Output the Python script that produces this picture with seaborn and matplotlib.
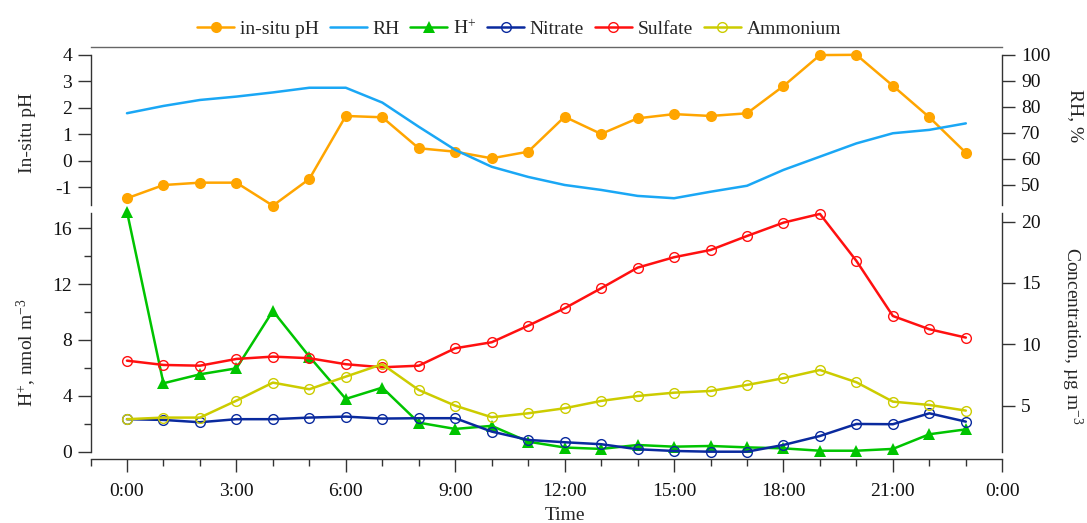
import matplotlib
matplotlib.use("Agg")
import matplotlib.pyplot as plt
import numpy as np
import pandas as pd
import seaborn as sns
from matplotlib.ticker import MultipleLocator, FixedLocator
from matplotlib.lines import Line2D

# ---------------- data ----------------
hours = list(range(24))
ph = [-1.42, -0.92, -0.83, -0.83, -1.70, -0.69, 1.69, 1.64, 0.47, 0.34, 0.09, 0.34,
      1.66, 1.01, 1.60, 1.76, 1.69, 1.79, 2.82, 3.99, 4.00, 2.83, 1.64, 0.30]
rh = [77.6, 80.4, 82.7, 84.0, 85.6, 87.4, 87.4, 81.7, 72.4, 63.5, 57.0, 53.1,
      50.0, 48.1, 45.8, 44.9, 47.4, 49.7, 55.8, 60.9, 66.0, 69.9, 71.2, 73.7]
hplus = [17.19, 4.90, 5.54, 5.97, 10.08, 6.81, 3.78, 4.59, 2.08, 1.63, 1.85, 0.72,
         0.30, 0.20, 0.48, 0.36, 0.41, 0.31, 0.24, 0.07, 0.07, 0.20, 1.25, 1.60]
nitrate = [3.90, 3.84, 3.65, 3.90, 3.90, 4.03, 4.11, 3.95, 3.98, 3.98, 2.89, 2.21,
           2.02, 1.86, 1.45, 1.31, 1.25, 1.25, 1.80, 2.53, 3.51, 3.49, 4.38, 3.70]
sulfate = [8.67, 8.32, 8.26, 8.81, 9.00, 8.87, 8.38, 8.13, 8.26, 9.68, 10.17, 11.52,
           12.94, 14.57, 16.25, 17.10, 17.69, 18.83, 19.92, 20.63, 16.80, 12.31, 11.23, 10.55]
ammonium = [3.90, 4.03, 4.03, 5.41, 6.88, 6.34, 7.37, 8.38, 6.28, 5.00, 4.06, 4.38,
            4.79, 5.39, 5.79, 6.06, 6.20, 6.69, 7.24, 7.91, 6.91, 5.33, 5.06, 4.60]

xtick_hours = [0, 3, 6, 9, 12, 15, 18, 21, 24]
xtick_labels = ["0:00", "3:00", "6:00", "9:00", "12:00", "15:00", "18:00", "21:00", "0:00"]
ph_ticks = [-1, 0, 1, 2, 3, 4]
rh_ticks = [50, 60, 70, 80, 90, 100]
hplus_ticks = [0, 4, 8, 12, 16]
conc_ticks = [5, 10, 15, 20]

df = pd.DataFrame({"hour": hours, "ph": ph, "rh": rh, "hplus": hplus,
                   "nitrate": nitrate, "sulfate": sulfate, "ammonium": ammonium})

# ---------------- style ----------------
sns.set_theme(style="ticks")
plt.rcParams["font.family"] = ["Liberation Serif", "DejaVu Serif"]
plt.rcParams["mathtext.fontset"] = "custom"
plt.rcParams["mathtext.rm"] = "Liberation Serif"
plt.rcParams["mathtext.it"] = "Liberation Serif:italic"
plt.rcParams["mathtext.bf"] = "Liberation Serif:bold"
plt.rcParams["axes.unicode_minus"] = False
plt.rcParams["font.size"] = 14

C_PH = "#FFA500"
C_RH = "#1AA7F5"
C_H = "#00C400"
C_NO3 = "#0A2A9E"
C_SO4 = "#FF1010"
C_NH4 = "#CCCC00"
SPINE = "#333333"

fig = plt.figure(figsize=(10.87, 5.23), dpi=100)
L, W = 90.5 / 1087, (1002.3 - 90.5) / 1087
ax_top = fig.add_axes([L, (523 - 205) / 523, W, 157.7 / 523])
ax_bot = fig.add_axes([L, (523 - 451.7) / 523, W, 238.4 / 523], sharex=ax_top)
ax_top_r = ax_top.twinx()
ax_bot_r = ax_bot.twinx()

lw = 1.8
# top panel
sns.lineplot(data=df, x="hour", y="ph", ax=ax_top, color=C_PH, lw=lw, marker="o",
             markersize=8, markeredgewidth=0, clip_on=False, label="in-situ pH", legend=False)
sns.lineplot(data=df, x="hour", y="rh", ax=ax_top_r, color=C_RH, lw=lw,
             clip_on=False, label="RH", legend=False)
# bottom panel
sns.lineplot(data=df, x="hour", y="hplus", ax=ax_bot, color=C_H, lw=lw, marker="^",
             markersize=8, markeredgewidth=0, clip_on=False, label="H$^{+}$", legend=False)
for col, c, lab in [("nitrate", C_NO3, "Nitrate"), ("sulfate", C_SO4, "Sulfate"),
                    ("ammonium", C_NH4, "Ammonium")]:
    sns.lineplot(data=df, x="hour", y=col, ax=ax_bot_r, color=c, lw=lw, marker="o",
                 markersize=7, markerfacecolor="none", markeredgecolor=c,
                 markeredgewidth=1.0, clip_on=False, label=lab, legend=False)

# limits
ax_top.set_xlim(-1, 24)
ax_top.set_ylim(-1.674, 4.284)
ax_top_r.set_ylim(42.3, 102.96)
ax_bot.set_ylim(0, 17.07)
ax_bot_r.set_ylim(1.25, 20.68)

for a in (ax_top, ax_top_r, ax_bot, ax_bot_r):
    a.set_xlabel("")
    a.set_ylabel("")
    a.patch.set_visible(False)
    for s in a.spines.values():
        s.set_color(SPINE)
        s.set_linewidth(1.0)
    a.tick_params(which="both", direction="out", color=SPINE, width=1.0,
                  labelsize=14, labelcolor="#111111")
    a.tick_params(which="major", length=9.4)
    a.tick_params(which="minor", length=5)

# top panel axes
ax_top.yaxis.set_major_locator(FixedLocator(ph_ticks))
ax_top_r.yaxis.set_major_locator(FixedLocator(rh_ticks))
ax_top.spines["left"].set_bounds(-1.674, 4)
ax_top_r.spines["right"].set_bounds(42.3, 100)
for a in (ax_top, ax_top_r):
    a.spines["bottom"].set_visible(False)
    a.tick_params(axis="x", which="both", bottom=False, labelbottom=False)
ax_top.spines["top"].set_color("#666666")
ax_top_r.spines["top"].set_visible(False)
ax_top.spines["right"].set_visible(False)
ax_top_r.spines["left"].set_visible(False)

# bottom panel axes
ax_bot.yaxis.set_major_locator(FixedLocator(hplus_ticks))
ax_bot.yaxis.set_minor_locator(MultipleLocator(2))
ax_bot_r.yaxis.set_major_locator(FixedLocator(conc_ticks))
for a in (ax_bot, ax_bot_r):
    a.spines["top"].set_visible(False)
ax_bot.spines["right"].set_visible(False)
ax_bot_r.spines["left"].set_visible(False)
ax_bot_r.spines["bottom"].set_visible(False)
ax_bot.spines["bottom"].set_position(("outward", 5.4))
ax_bot.xaxis.set_major_locator(FixedLocator(xtick_hours))
ax_bot.xaxis.set_minor_locator(MultipleLocator(1))
ax_bot.set_xticklabels(xtick_labels)
ax_bot.tick_params(axis="x", which="major", pad=8)
ax_bot_r.tick_params(axis="x", which="both", bottom=False, labelbottom=False)
for a in (ax_top, ax_bot):
    a.tick_params(axis="y", pad=4)
for a in (ax_top_r, ax_bot_r):
    a.tick_params(axis="y", pad=4)

# axis titles
fig.text(27 / 1087, 1 - 132.5 / 523, "In-situ pH", rotation=90, ha="center", va="center", fontsize=14)
fig.text(27 / 1087, 1 - 407 / 523, "H$^{+}$, nmol m$^{-3}$", rotation=90, ha="center", va="bottom", fontsize=14)
fig.text(1075 / 1087, 1 - 116 / 523, "RH, %", rotation=270, ha="center", va="center", fontsize=14)
fig.text(1072 / 1087, 1 - 246.7 / 523, "Concentration, µg m$^{-3}$", rotation=270, ha="center", va="top", fontsize=14)
fig.text(564.7 / 1087, 1 - 515 / 523, "Time", ha="center", va="center", fontsize=14)

# legend
handles = ax_top.get_lines()[:1] + ax_top_r.get_lines()[:1] + ax_bot.get_lines()[:1] + ax_bot_r.get_lines()[:3]
labels = [h.get_label() for h in handles]
fig.legend(handles, labels, loc="center", bbox_to_anchor=(0.4775, 0.946), ncol=6, frameon=False,
           fontsize=14, handlelength=1.9, handletextpad=0.3, columnspacing=0.55)

fig.savefig("out.png", dpi=100)
